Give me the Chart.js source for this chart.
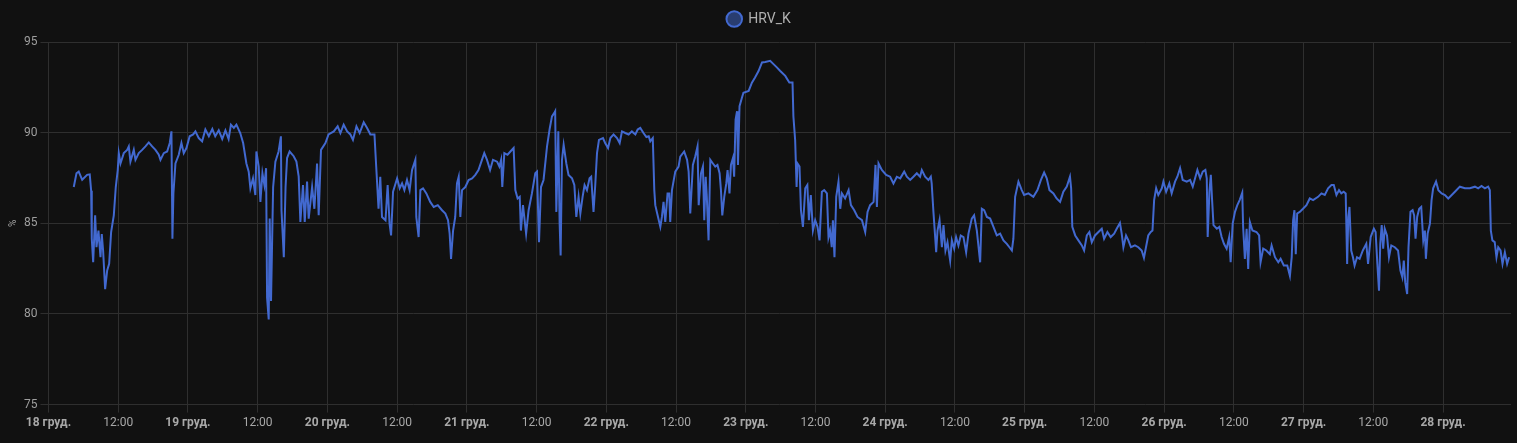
<!DOCTYPE html>
<html lang="uk">
<head>
    <meta charset="UTF-8">
    <title>HRV_K</title>
    <script src="https://cdn.jsdelivr.net/npm/chart.js"></script>
    <style>
        html, body { margin: 0; padding: 0; background: #111111; }
        .wrap { width: 1517px; height: 443px; position: relative; }
    </style>
</head>
<body>
    <div class="wrap"><canvas id="grafico"></canvas></div>
    <script>
        // годин від 18 груд. 00:00
        const hours = [
            4.35, 4.82, 5.2, 5.8, 6.65, 7.1, 7.34, 7.45, 7.69, 8.03, 8.26, 8.6, 8.95, 9.17, 9.4, 9.75, 10.1, 10.44, 10.78, 11.24,
            11.58, 11.92, 12.1, 12.39, 12.96, 13.54, 13.82, 14.1, 14.68, 14.97, 15.54, 16.12, 16.69, 17.26, 17.84, 18.41, 18.98, 19.27, 19.84, 20.42,
            20.87, 21.16, 21.33, 21.5, 21.85, 22.42, 22.88, 23.28, 23.74, 24.3, 24.9, 25.29, 25.86, 26.44, 27.0, 27.6, 28.2, 28.7, 29.3, 29.9,
            30.45, 31.0, 31.4, 31.9, 32.34, 33.0, 33.5, 34.06, 34.46, 34.75, 35.2, 35.6, 35.78, 36.18, 36.47, 36.82, 37.16, 37.45, 37.62, 37.9,
            38.07, 38.3, 38.66, 39.05, 39.6, 40.0, 40.1, 40.5, 40.8, 41.06, 41.5, 42.2, 42.67, 43.06, 43.35, 43.8, 44.1, 44.5, 44.78, 45.37,
            45.76, 46.22, 46.5, 46.9, 47.66, 48.2, 49.1, 49.77, 50.24, 50.8, 51.4, 51.96, 52.4, 53.0, 53.55, 54.25, 54.83, 55.4, 56.1, 56.4,
            56.8, 57.1, 57.4, 58.0, 58.37, 58.7, 58.96, 59.3, 60.0, 60.44, 60.85, 61.25, 61.7, 62.15, 62.57, 63.14, 63.3, 63.7, 64.0, 64.46,
            65.03, 65.7, 66.3, 67.0, 67.73, 68.3, 68.76, 69.04, 69.28, 69.63, 70.0, 70.3, 70.6, 70.88, 71.17, 71.74, 72.3, 72.9, 73.46, 74.0,
            74.6, 75.0, 75.47, 76.0, 76.5, 77.2, 77.6, 77.9, 78.1, 78.45, 79.0, 79.5, 80.05, 80.34, 80.74, 81.1, 81.3, 81.66, 82.2, 82.63,
            83.2, 83.78, 84.07, 84.42, 84.76, 85.2, 85.8, 86.25, 86.65, 87.05, 87.2, 87.4, 87.74, 87.97, 88.14, 88.37, 88.66, 89.12, 89.5, 90.1,
            90.5, 90.84, 91.23, 91.53, 91.92, 92.26, 92.67, 93.12, 93.4, 93.8, 94.1, 94.4, 94.74, 95.43, 95.8, 96.3, 96.7, 97.25, 97.84, 98.3,
            98.7, 99.27, 99.84, 100.4, 101.0, 101.4, 101.85, 102.4, 102.9, 103.3, 103.57, 104.0, 104.26, 104.43, 104.83, 105.3, 105.57, 105.85, 106.15, 106.54,
            106.83, 107.0, 107.3, 107.87, 108.44, 108.73, 109.4, 109.9, 110.17, 110.45, 110.9, 111.3, 111.7, 111.9, 112.3, 112.63, 112.86, 113.1, 113.3, 113.6,
            113.9, 114.35, 114.75, 115.13, 115.5, 115.73, 115.96, 116.3, 116.65, 116.87, 117.2, 117.45, 117.8, 118.0, 118.25, 118.5, 118.66, 118.93, 119.34, 119.6,
            120.5, 121.06, 121.6, 122.2, 122.8, 123.35, 124.2, 124.78, 125.35, 125.94, 126.8, 127.5, 128.05, 128.2, 128.5, 128.75, 128.9, 129.25, 129.5, 129.84,
            130.24, 130.6, 130.87, 131.2, 131.56, 131.95, 132.35, 132.7, 133.1, 133.5, 133.97, 134.24, 134.5, 134.8, 135.0, 135.27, 135.57, 135.96, 136.26, 136.55,
            137.1, 137.7, 138.1, 138.67, 139.24, 140.0, 140.56, 140.96, 141.4, 142.0, 142.33, 142.57, 142.85, 143.42, 144.16, 144.85, 145.42, 146.0, 146.58, 147.27,
            147.72, 148.3, 148.86, 149.44, 150.0, 150.3, 150.87, 151.44, 151.85, 152.0, 152.3, 152.6, 152.77, 153.0, 153.35, 153.76, 154.03, 154.37, 154.72, 155.18,
            155.47, 155.87, 156.2, 156.6, 157.0, 157.47, 157.93, 158.33, 158.9, 159.3, 159.77, 160.34, 160.63, 161.03, 161.5, 162.06, 162.63, 163.2, 163.78, 164.35,
            164.93, 165.38, 165.8, 166.06, 166.36, 166.93, 167.5, 167.9, 168.65, 169.5, 170.2, 170.8, 171.35, 171.8, 172.27, 172.95, 173.5, 174.1, 174.66, 175.25,
            175.8, 176.0, 176.2, 176.7, 177.25, 177.84, 178.23, 178.7, 179.14, 179.55, 180.1, 180.7, 181.27, 181.67, 182.24, 182.8, 183.4, 183.84, 184.4, 184.7,
            184.99, 185.45, 185.85, 186.3, 186.98, 187.56, 188.14, 188.53, 188.88, 189.27, 189.7, 190.0, 190.28, 190.63, 191.0, 191.6, 191.88, 192.35, 192.9, 193.3,
            193.88, 194.28, 194.75, 195.2, 195.9, 196.47, 196.93, 197.33, 197.73, 198.2, 198.65, 199.1, 199.34, 199.5, 199.8, 200.04, 200.26, 200.5, 201.07, 201.5,
            201.9, 202.3, 202.76, 203.2, 203.45, 203.8, 204.2, 204.6, 205.0, 205.45, 205.6, 205.9, 206.2, 206.47, 206.76, 207.2, 207.9, 208.35, 208.6, 209.05,
            209.6, 210.2, 210.5, 211.08, 211.65, 212.05, 212.6, 213.2, 213.65, 213.96, 214.2, 214.43, 214.66, 214.9, 215.35, 215.9, 216.5, 217.07, 217.64, 218.5,
            219.08, 219.65, 220.22, 220.8, 221.2, 221.66, 222.1, 222.5, 222.9, 223.25, 223.5, 223.7, 223.9, 224.2, 224.5, 224.78, 225.2, 225.65, 226.2, 226.8,
            227.1, 227.55, 228.1, 228.4, 228.7, 228.98, 229.2, 229.45, 229.7, 229.97, 230.36, 230.7, 231.1, 231.7, 232.26, 232.67, 233.0, 233.25, 233.5, 233.83,
            234.06, 234.4, 234.77, 235.03, 235.27, 235.55, 235.9, 236.25, 236.6, 236.88, 237.05, 237.35, 237.75, 238.03, 238.3, 238.8, 239.2, 239.76, 240.33, 240.9,
            241.5, 242.05, 242.9, 243.77, 244.63, 245.5, 246.05, 246.63, 247.2, 247.77, 248.06, 248.23, 248.5, 248.9, 249.2, 249.5, 249.9, 250.24, 250.64, 251.03,
            251.37
        ];

        const hrv = [
            87.0, 87.76, 87.85, 87.4, 87.67, 87.7, 86.8, 84.15, 82.85, 85.44, 83.68, 84.6, 83.13, 84.4, 83.5, 81.37, 82.4, 82.76, 84.52, 85.44,
            87.0, 87.94, 88.87, 88.3, 88.87, 89.05, 89.24, 88.4, 89.05, 88.5, 88.87, 89.05, 89.24, 89.46, 89.24, 89.05, 88.78, 88.5, 88.87, 88.96,
            89.43, 90.07, 84.15, 86.65, 88.3, 88.78, 89.43, 88.87, 89.15, 89.8, 89.9, 90.07, 89.7, 89.52, 90.17, 89.8, 90.2, 89.8, 90.13, 89.65,
            90.13, 89.65, 90.44, 90.26, 90.44, 89.98, 89.43, 88.3, 87.85, 86.93, 87.48, 86.56, 88.96, 88.13, 86.18, 87.76, 87.11, 88.04, 80.9, 79.7,
            85.26, 80.72, 87.0, 88.4, 88.96, 89.8, 85.72, 83.13, 87.0, 88.6, 88.96, 88.7, 88.4, 87.57, 85.07, 87.11, 85.07, 87.3, 85.26, 87.0,
            85.8, 88.3, 85.44, 89.05, 89.43, 89.9, 90.07, 90.35, 89.98, 90.44, 90.07, 89.9, 89.6, 90.35, 89.98, 90.57, 90.26, 89.9, 89.9, 88.13,
            85.8, 87.57, 85.35, 85.17, 87.11, 84.98, 84.33, 86.74, 87.48, 86.93, 87.2, 86.83, 87.39, 86.83, 87.94, 88.5, 85.35, 84.24, 86.83, 86.93,
            86.65, 86.18, 85.9, 86.0, 85.72, 85.54, 85.17, 84.43, 83.04, 84.6, 85.35, 87.2, 87.57, 85.35, 86.83, 87.0, 87.39, 87.48, 87.67, 87.94,
            88.5, 88.87, 88.5, 87.94, 88.5, 88.4, 88.13, 88.5, 87.0, 88.87, 88.78, 88.96, 89.15, 86.83, 86.37, 86.46, 84.6, 86.0, 84.43, 85.72,
            86.65, 87.76, 87.85, 83.96, 87.0, 87.39, 89.24, 90.2, 90.9, 91.09, 91.18, 85.63, 90.07, 84.98, 83.22, 88.5, 89.33, 88.3, 87.67, 87.48,
            87.11, 85.35, 86.46, 85.54, 86.46, 87.11, 86.83, 87.48, 87.57, 85.63, 87.11, 88.87, 89.6, 89.7, 89.43, 89.15, 89.7, 89.9, 89.7, 89.43,
            90.07, 89.98, 89.9, 90.07, 89.9, 90.17, 90.26, 89.98, 89.76, 89.8, 89.52, 89.7, 86.83, 86.0, 85.44, 84.8, 85.35, 86.18, 85.07, 86.65,
            86.65, 85.07, 86.83, 87.85, 88.13, 88.68, 88.96, 88.5, 87.85, 85.54, 88.22, 88.68, 89.24, 86.0, 87.76, 88.13, 85.17, 87.57, 86.46, 84.06,
            88.5, 88.3, 88.13, 88.22, 87.76, 86.83, 85.44, 86.46, 87.2, 87.94, 86.65, 88.22, 88.6, 87.57, 90.72, 91.18, 88.22, 91.46, 91.93, 92.2,
            92.3, 92.76, 93.04, 93.4, 93.87, 93.9, 93.96, 93.78, 93.6, 93.4, 93.13, 92.76, 92.76, 90.9, 89.6, 87.0, 88.3, 88.13, 85.72, 84.8,
            86.93, 87.11, 85.17, 86.56, 84.6, 85.17, 84.8, 84.06, 86.74, 86.83, 86.65, 84.24, 84.6, 83.68, 85.17, 83.13, 86.46, 87.3, 85.8, 86.65,
            86.37, 86.83, 86.0, 85.72, 85.35, 85.17, 84.52, 85.63, 86.0, 86.18, 88.22, 85.9, 88.3, 87.94, 87.67, 87.57, 87.2, 87.57, 87.48, 87.85,
            87.57, 87.39, 87.57, 87.76, 87.57, 87.94, 87.57, 87.39, 87.57, 87.2, 85.63, 84.24, 83.4, 84.6, 85.17, 83.68, 84.9, 83.5, 83.96, 82.94,
            84.06, 83.6, 84.24, 83.78, 84.33, 84.24, 83.4, 84.43, 85.26, 85.44, 84.6, 82.85, 85.8, 85.72, 85.35, 85.26, 84.8, 84.33, 84.43, 84.06,
            83.87, 83.68, 83.5, 84.15, 86.46, 87.3, 86.83, 86.56, 86.65, 86.46, 86.83, 87.39, 87.8, 87.48, 86.83, 86.65, 86.37, 86.18, 86.74, 87.02,
            87.57, 86.93, 84.8, 84.33, 84.06, 83.78, 83.5, 84.33, 84.52, 83.96, 84.33, 84.52, 84.7, 84.15, 84.52, 84.24, 84.43, 84.7, 85.02, 84.43,
            83.68, 84.33, 84.06, 83.68, 83.78, 83.68, 83.5, 83.09, 83.68, 84.33, 84.52, 84.6, 86.28, 86.93, 86.56, 86.93, 87.3, 86.74, 87.2, 86.65,
            87.3, 87.57, 88.04, 87.39, 87.3, 87.39, 87.02, 87.48, 87.94, 87.48, 87.85, 87.94, 87.48, 84.24, 86.74, 87.67, 86.28, 84.9, 84.7, 84.8,
            84.24, 83.87, 83.6, 84.24, 82.85, 84.98, 85.63, 86.0, 86.28, 86.69, 84.8, 83.04, 84.7, 82.48, 85.07, 84.6, 84.52, 84.33, 82.85, 83.6,
            83.5, 83.3, 83.78, 83.13, 82.85, 83.04, 82.67, 82.67, 82.1, 83.13, 85.17, 85.72, 83.3, 85.54, 85.63, 85.8, 86.0, 86.37, 86.28, 86.46,
            86.65, 86.56, 86.93, 87.11, 87.11, 86.56, 86.83, 86.65, 86.74, 86.65, 82.76, 85.35, 85.9, 83.5, 83.13, 82.67, 83.13, 83.04, 83.5, 83.87,
            82.76, 84.24, 84.7, 84.52, 82.76, 81.28, 83.87, 84.9, 83.6, 84.7, 84.33, 83.13, 83.78, 83.68, 83.5, 82.39, 82.02, 82.94, 81.74, 81.1,
            83.68, 85.63, 85.72, 85.44, 84.15, 85.35, 85.8, 85.9, 84.06, 84.6, 83.04, 84.43, 84.98, 86.28, 86.93, 87.3, 86.83, 86.65, 86.56, 86.37,
            86.56, 86.74, 87.02, 86.93, 86.93, 87.02, 86.93, 87.06, 86.93, 87.02, 86.83, 84.6, 84.06, 83.96, 83.13, 83.68, 83.5, 82.76, 83.4, 82.76,
            83.13
        ];

        const dayLabels = ['18 груд.', '19 груд.', '20 груд.', '21 груд.', '22 груд.', '23 груд.',
                           '24 груд.', '25 груд.', '26 груд.', '27 груд.', '28 груд.'];
        const halfDayLabel = '12:00';
        const yTicks = [75, 80, 85, 90, 95];

        Chart.defaults.font.family = 'Roboto';
        Chart.defaults.color = '#9e9e9e';

        // трохи більше місця під легендою
        const legendGap = {
            id: 'legendGap',
            beforeInit(chart) {
                const fit = chart.legend.fit;
                chart.legend.fit = function () {
                    fit.call(this);
                    this.height += 6;
                };
            }
        };

        const ctx = document.getElementById('grafico').getContext('2d');
        new Chart(ctx, {
            type: 'line',
            data: {
                datasets: [{
                    label: 'HRV_K',
                    data: hours.map((h, i) => ({ x: h, y: hrv[i] })),
                    borderColor: '#4269d0',
                    backgroundColor: 'rgba(66, 105, 208, 0.5)',
                    borderWidth: 2,
                    pointRadius: 0,
                    tension: 0
                }]
            },
            options: {
                responsive: true,
                maintainAspectRatio: false,
                animation: false,
                layout: { padding: { left: 7, right: 6, top: 2, bottom: 10 } },
                plugins: {
                    legend: {
                        position: 'top',
                        labels: {
                            usePointStyle: true,
                            pointStyle: 'circle',
                            boxHeight: 11,
                            color: '#b0b0b0',
                            font: { size: 14 }
                        }
                    },
                    tooltip: { enabled: false }
                },
                scales: {
                    x: {
                        type: 'linear',
                        min: 0,
                        max: 251.7,
                        grid: { color: '#2f2f2f', tickLength: 8 },
                        border: { display: false },
                        ticks: {
                            stepSize: 12,
                            includeBounds: false,
                            autoSkip: false,
                            maxRotation: 0,
                            color: '#a8a8a8',
                            font: (c) => (c.tick && c.tick.value % 24 === 0)
                                ? { size: 12, weight: 'bold' } : { size: 12 },
                            callback: (v) => v % 24 === 0 ? dayLabels[v / 24] : halfDayLabel
                        }
                    },
                    y: {
                        min: yTicks[0],
                        max: yTicks[yTicks.length - 1],
                        grid: { color: '#2f2f2f', tickLength: 8 },
                        border: { display: false },
                        title: { display: true, text: '%', font: { size: 10 }, padding: { top: 0, bottom: 2 } },
                        ticks: { stepSize: 5, font: { size: 12 } }
                    }
                }
            },
            plugins: [legendGap]
        });
    </script>
</body>
</html>
